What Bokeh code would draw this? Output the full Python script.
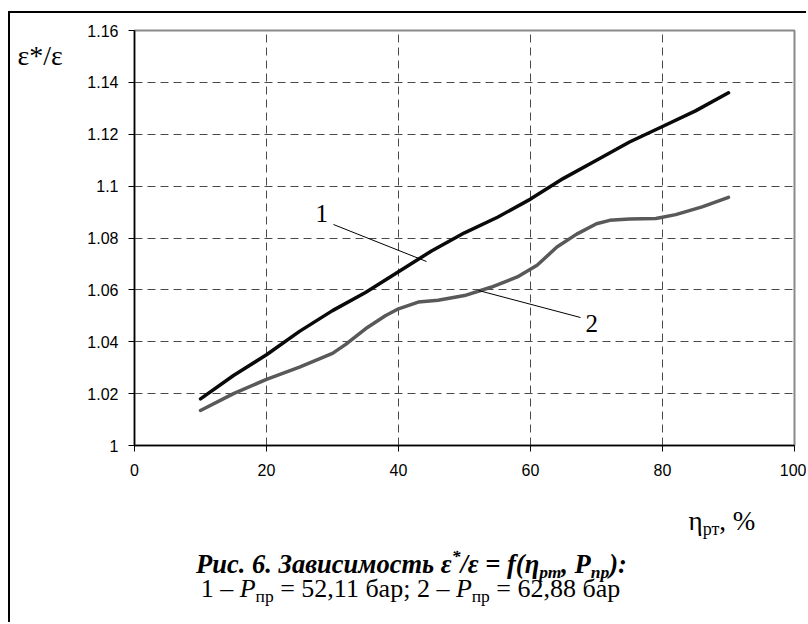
import glob
import os
from bokeh.plotting import figure
from bokeh.models import Label, FixedTicker, Range1d
from bokeh.layouts import column, row
from bokeh.embed import file_html
from bokeh.resources import INLINE

# ---------------- data ----------------
x1 = [10, 15, 20, 25, 30, 35, 40, 45, 50, 55, 60, 65, 70, 75, 80, 85, 90]
y1 = [1.018, 1.027, 1.035, 1.044, 1.052, 1.059, 1.067, 1.075, 1.082, 1.088,
      1.095, 1.103, 1.110, 1.117, 1.123, 1.129, 1.136]

x2 = [10, 15, 20, 25, 30, 32, 35, 38, 40, 43, 46, 50, 54, 58, 61, 64, 67,
      70, 72, 75, 79, 82, 86, 90]
y2 = [1.0135, 1.020, 1.0255, 1.0302, 1.0355, 1.039, 1.045, 1.050, 1.0527,
      1.0553, 1.0560, 1.0578, 1.061, 1.065, 1.0695, 1.0765, 1.0815, 1.0855,
      1.0868, 1.0873, 1.0875, 1.089, 1.092, 1.0957]

x_ticks = [0, 20, 40, 60, 80, 100]
x_tick_labels = ["0", "20", "40", "60", "80", "100"]
y_ticks = [1.0, 1.02, 1.04, 1.06, 1.08, 1.1, 1.12, 1.14, 1.16]
y_tick_labels = ["1", "1.02", "1.04", "1.06", "1.08", "1.1", "1.12", "1.14", "1.16"]

curve_labels = ["1", "2"]
y_title = "ε*/ε"

# ---------------- layout constants (page pixels) ----------------
TOTAL_W, TOTAL_H = 806, 622
TOP_H = 490                  # height of the chart row
STRIP_W = 75                 # left strip holding the y title
MAIN_W = TOTAL_W - STRIP_W
FRAME_L, FRAME_R, FRAME_T, FRAME_B = 134, 794, 30, 445   # page coords of plot frame
XMIN, XMAX = 0, 100
YMIN, YMAX = 1.0, 1.16
BASE_FIX = 0.36              # baseline correction (fraction of font size)
NBSP = "\u00a0"


def dx(px):
    return XMIN + (px - FRAME_L) / (FRAME_R - FRAME_L) * (XMAX - XMIN)


def dy(py):
    return YMIN + (FRAME_B - py) / (FRAME_B - FRAME_T) * (YMAX - YMIN)


SERIF = "Liberation Serif"
SANS = "Liberation Sans"
FILES = {
    "normal": "LiberationSerif-Regular.ttf",
    "italic": "LiberationSerif-Italic.ttf",
    "bold": "LiberationSerif-Bold.ttf",
    "bold italic": "LiberationSerif-BoldItalic.ttf",
}
_font_cache = {}


def find_font(fname):
    if fname in _font_cache:
        return _font_cache[fname]
    path = None
    for root in ["/usr/share/fonts", "/usr/local/share/fonts",
                 os.path.expanduser("~/.fonts"), os.path.expanduser("~/.local/share/fonts")]:
        hits = glob.glob(os.path.join(root, "**", fname), recursive=True)
        if hits:
            path = hits[0]
            break
    _font_cache[fname] = path
    return path


def text_width(text, style, size):
    path = find_font(FILES[style])
    if path:
        try:
            from PIL import ImageFont
            return ImageFont.truetype(path, size).getlength(text)
        except Exception:
            pass
    return 0.5 * size * len(text)


def add_run(fig, to_data, pieces, anchor_px, baseline_py, align="left"):
    widths = [text_width(t, st, sz) for (t, st, sz, sh) in pieces]
    total = sum(widths)
    cur = anchor_px - total / 2 if align == "center" else anchor_px
    for (t, st, sz, sh), w in zip(pieces, widths):
        xx, yy = to_data(cur, baseline_py + sh - BASE_FIX * sz)
        fig.add_layout(Label(x=xx, y=yy, text=t.replace(" ", NBSP),
                             text_font=SERIF, text_font_size=f"{sz}px",
                             text_font_style=st, text_color="black",
                             text_align="left", text_baseline="alphabetic"))
        cur += w


def plain_figure(w, h, xr, yr, **borders):
    f = figure(width=w, height=h, output_backend="svg", toolbar_location=None,
               x_range=xr, y_range=yr, x_axis_location=None, y_axis_location=None,
               **borders)
    f.title.visible = False
    f.grid.visible = False
    f.outline_line_color = None
    f.border_fill_color = None
    f.background_fill_color = None
    return f


# ---------------- main chart ----------------
p = figure(width=MAIN_W, height=TOP_H, output_backend="svg", toolbar_location=None,
           x_range=Range1d(XMIN, XMAX), y_range=Range1d(YMIN, YMAX),
           min_border_left=FRAME_L - STRIP_W, min_border_right=TOTAL_W - FRAME_R,
           min_border_top=FRAME_T, min_border_bottom=TOP_H - FRAME_B)
p.title.visible = False
p.border_fill_color = None
p.background_fill_color = "white"
p.outline_line_color = "#8a8a8a"
p.outline_line_width = 2
p.styles = {"box-shadow": "inset 0 11px 0 0 #ffffff, inset 0 13px 0 0 #000000"}

for ax in (p.xaxis[0], p.yaxis[0]):
    ax.axis_line_color = "black"
    ax.axis_line_width = 1.5
    ax.major_tick_line_color = "black"
    ax.major_tick_line_width = 1
    ax.major_tick_out = 6
    ax.major_tick_in = 0
    ax.minor_tick_line_color = None
    ax.major_label_text_font = SANS
    ax.major_label_text_font_size = "16px"
    ax.major_label_text_color = "black"

p.xaxis[0].ticker = FixedTicker(ticks=x_ticks)
p.xaxis[0].major_label_overrides = dict(zip(x_ticks, x_tick_labels))
p.xaxis[0].major_label_standoff = 12
p.yaxis[0].ticker = FixedTicker(ticks=y_ticks)
p.yaxis[0].major_label_overrides = dict(zip(y_ticks, y_tick_labels))
p.yaxis[0].major_label_standoff = 10

p.xgrid.ticker = FixedTicker(ticks=x_ticks[1:-1])
p.ygrid.ticker = FixedTicker(ticks=y_ticks[1:-1])
for g in (p.xgrid[0], p.ygrid[0]):
    g.grid_line_color = "#4a4a4a"
    g.grid_line_width = 1
    g.grid_line_dash = "8 5"

p.line(x1, y1, line_color="#0a0a0a", line_width=3.5, line_join="round", line_cap="round")
p.line(x2, y2, line_color="#595959", line_width=3.5, line_join="round", line_cap="round")

# leader lines for the curve labels
p.segment(x0=[dx(333), dx(478)], y0=[dy(224), dy(290)],
          x1=[dx(426), dx(580)], y1=[dy(261), dy(317)],
          line_color="black", line_width=1)

main_map = lambda px, py: (dx(px), dy(py))
add_run(p, main_map, [(curve_labels[0], "normal", 25, 0)], 315, 221.5)
add_run(p, main_map, [(curve_labels[1], "normal", 25, 0)], 585, 331.5)

# ---------------- left strip (y title); its frame aligns with the main frame ----------------
left = plain_figure(STRIP_W, TOP_H, Range1d(0, STRIP_W), Range1d(FRAME_B, FRAME_T),
                    min_border_left=0, min_border_right=0,
                    min_border_top=FRAME_T, min_border_bottom=TOP_H - FRAME_B)
left.styles = {"box-shadow": "inset 0 11px 0 0 #ffffff, inset 8px 0 0 0 #ffffff, "
                             "inset 10px 13px 0 0 #000000"}
add_run(left, lambda px, py: (px, py), [(y_title, "normal", 28, 0)], 17, 65)

# ---------------- caption area ----------------
CAP_H = TOTAL_H - TOP_H
cap = plain_figure(TOTAL_W, CAP_H, Range1d(0, TOTAL_W), Range1d(TOTAL_H, TOP_H), min_border=0)
cap.styles = {"box-shadow": "inset 8px 0 0 0 #ffffff, inset 10px 0 0 0 #000000"}
cap_map = lambda px, py: (px, py)

add_run(cap, cap_map, [("η", "normal", 27, 0), ("рт", "normal", 18, 5), (", %", "normal", 27, 0)],
        688, 530)
S1, s1 = 26.5, 17.5
add_run(cap, cap_map, [("Рис. 6. Зависимость ε", "bold italic", S1, 0),
                       ("*", "bold italic", s1, -11),
                       ("/ε = f(η", "bold italic", S1, 0),
                       ("рт", "bold italic", s1, 5),
                       (", P", "bold italic", S1, 0),
                       ("пр", "bold italic", s1, 5),
                       ("):", "bold italic", S1, 0)], 411, 573, align="center")
S2, s2 = 26, 17.5
add_run(cap, cap_map, [("1 – ", "normal", S2, 0),
                       ("P", "italic", S2, 0),
                       ("пр", "normal", s2, 5),
                       (" = 52,11 бар; 2 – ", "normal", S2, 0),
                       ("P", "italic", S2, 0),
                       ("пр", "normal", s2, 5),
                       (" = 62,88 бар", "normal", S2, 0)], 410, 597, align="center")

layout = column(row(left, p), cap)
open("out.html", "w").write(file_html(layout, INLINE))
